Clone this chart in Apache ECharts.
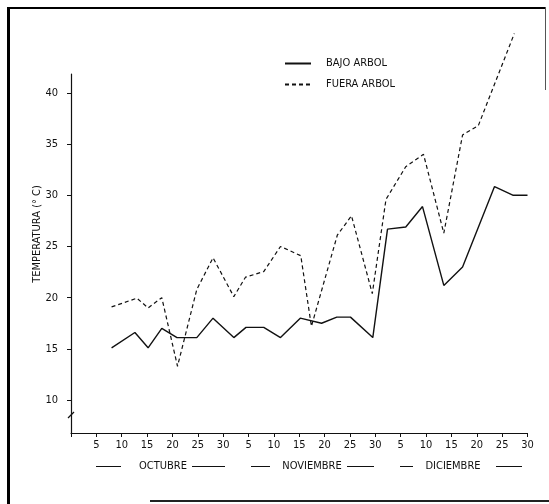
<!DOCTYPE html>
<html>
<head>
<meta charset="utf-8">
<script src="https://cdn.jsdelivr.net/npm/echarts@6/dist/echarts.min.js"></script>
<style>
  html, body { margin: 0; padding: 0; background: #fff; }
  #c { width: 549px; height: 504px; }
</style>
</head>
<body>
<div id="c"></div>
<script>
// Temperature readings, Oct–Dec; the day axis counts 30 days per month (0–90)
const seriesNames = ['BAJO ARBOL', 'FUERA ARBOL'];

const diasBajo = [8, 12.6, 15.2, 17.9, 20.9, 24.8, 28, 32.1, 34.5, 38, 41.3, 45.2,
                  49.4, 52.4, 55.1, 59.5, 62.4, 66, 69.3, 73.5, 77.2, 83.5, 87.2, 90];
const tempBajo = [15.1, 16.6, 15.1, 17.0, 16.1, 16.1, 18.0, 16.1, 17.1, 17.1, 16.1, 18.0,
                  17.5, 18.1, 18.1, 16.1, 26.7, 26.9, 28.9, 21.2, 23.0, 30.85, 30.0, 30.0];

const diasFuera = [8, 13, 15.2, 17.9, 21, 24.8, 28, 32.1, 34.4, 38, 41.3, 45.3,
                   47.4, 52.5, 55.3, 59.4, 62.1, 66, 69.5, 73.5, 77.2, 80.3, 87.4];
const tempFuera = [19.1, 19.95, 19.0, 20.0, 13.3, 20.8, 23.9, 20.1, 22.0, 22.55, 25.0, 24.1,
                   17.2, 26.1, 28.0, 20.4, 29.6, 32.8, 34.0, 26.3, 35.9, 36.8, 45.8];

const xTickLabels = ['', '5', '10', '15', '20', '25', '30',
                     '5', '10', '15', '20', '25', '30',
                     '5', '10', '15', '20', '25', '30'];
const yTickValues = [10, 15, 20, 25, 30, 35, 40];
const meses = ['OCTUBRE', 'NOVIEMBRE', 'DICIEMBRE'];
const yAxisTitle = 'TEMPERATURA (° C)';

const FONT = "'DejaVu Sans Condensed', 'DejaVu Sans', sans-serif";
const INK = '#111';

const pairs = (xs, ys) => xs.map((x, i) => [x, ys[i]]);

const chart = echarts.init(document.getElementById('c'), null, { renderer: 'canvas' });

// month captions with rule segments on each side
const monthLayout = [
  { text: [163, 466], left: [96, 121], right: [192, 225] },
  { text: [312, 466], left: [251, 270], right: [347, 374] },
  { text: [453, 466], left: [400, 413], right: [496, 522] }
];
const monthGraphics = [];
meses.forEach((m, i) => {
  const L = monthLayout[i];
  monthGraphics.push({
    type: 'text', x: L.text[0], y: L.text[1],
    style: { text: m, font: '11px ' + FONT, fill: INK, align: 'center', verticalAlign: 'middle' }
  });
  [L.left, L.right].forEach(seg => monthGraphics.push({
    type: 'line', shape: { x1: seg[0], y1: 466.5, x2: seg[1], y2: 466.5 },
    style: { stroke: INK, lineWidth: 1 }
  }));
});

chart.setOption({
  animation: false,
  backgroundColor: '#fff',
  textStyle: { fontFamily: FONT },
  grid: { left: 71, right: 21.5, top: 74, bottom: 71, containLabel: false },
  legend: {
    orient: 'vertical', left: 279, top: 53,
    itemWidth: 26, itemHeight: 12, itemGap: 10,
    itemStyle: { opacity: 0 },
    textStyle: { fontFamily: FONT, fontSize: 11, color: INK, padding: [0, 0, 0, 10] },
    data: seriesNames
  },
  xAxis: {
    type: 'value', min: 0, max: 90, interval: 5,
    axisLine: { show: true, lineStyle: { color: INK, width: 1.2 } },
    axisTick: { show: true, length: 4, inside: false, lineStyle: { color: INK } },
    axisLabel: {
      color: INK, fontSize: 11, fontFamily: FONT, margin: 7,
      formatter: v => xTickLabels[Math.round(v / 5)] || ''
    },
    splitLine: { show: false }
  },
  yAxis: {
    type: 'value', min: 6.78, max: 41.85,
    axisLine: { show: true, lineStyle: { color: INK, width: 1.2 } },
    axisTick: { show: true, length: 4, customValues: yTickValues, lineStyle: { color: INK } },
    axisLabel: { color: INK, fontSize: 11, fontFamily: FONT, margin: 13, customValues: yTickValues },
    splitLine: { show: false }
  },
  series: [
    {
      name: seriesNames[0], type: 'line', data: pairs(diasBajo, tempBajo),
      symbol: 'none', clip: false,
      lineStyle: { color: INK, width: 1.4, type: 'solid' },
      itemStyle: { color: INK }
    },
    {
      name: seriesNames[1], type: 'line', data: pairs(diasFuera, tempFuera),
      symbol: 'none', clip: false,
      lineStyle: { color: INK, width: 1.2, type: [4, 3] },
      itemStyle: { color: INK }
    }
  ],
  graphic: [
    // page frame
    { type: 'line', shape: { x1: 8.5, y1: 7, x2: 8.5, y2: 504 }, style: { stroke: '#000', lineWidth: 3 } },
    { type: 'line', shape: { x1: 7, y1: 8, x2: 546, y2: 8 }, style: { stroke: '#000', lineWidth: 2 } },
    { type: 'line', shape: { x1: 545.5, y1: 7, x2: 545.5, y2: 90 }, style: { stroke: '#555', lineWidth: 1 } },
    { type: 'line', shape: { x1: 150, y1: 501, x2: 549, y2: 501 }, style: { stroke: '#222', lineWidth: 2 } },
    // axis break mark
    { type: 'line', shape: { x1: 68, y1: 418, x2: 74, y2: 412 }, style: { stroke: INK, lineWidth: 1.3 } },
    // vertical axis title
    {
      type: 'text', x: 37, y: 234, rotation: Math.PI / 2,
      style: { text: yAxisTitle, font: '11px ' + FONT, fill: INK, align: 'center', verticalAlign: 'middle' }
    }
  ].concat(monthGraphics)
});
</script>
</body>
</html>
